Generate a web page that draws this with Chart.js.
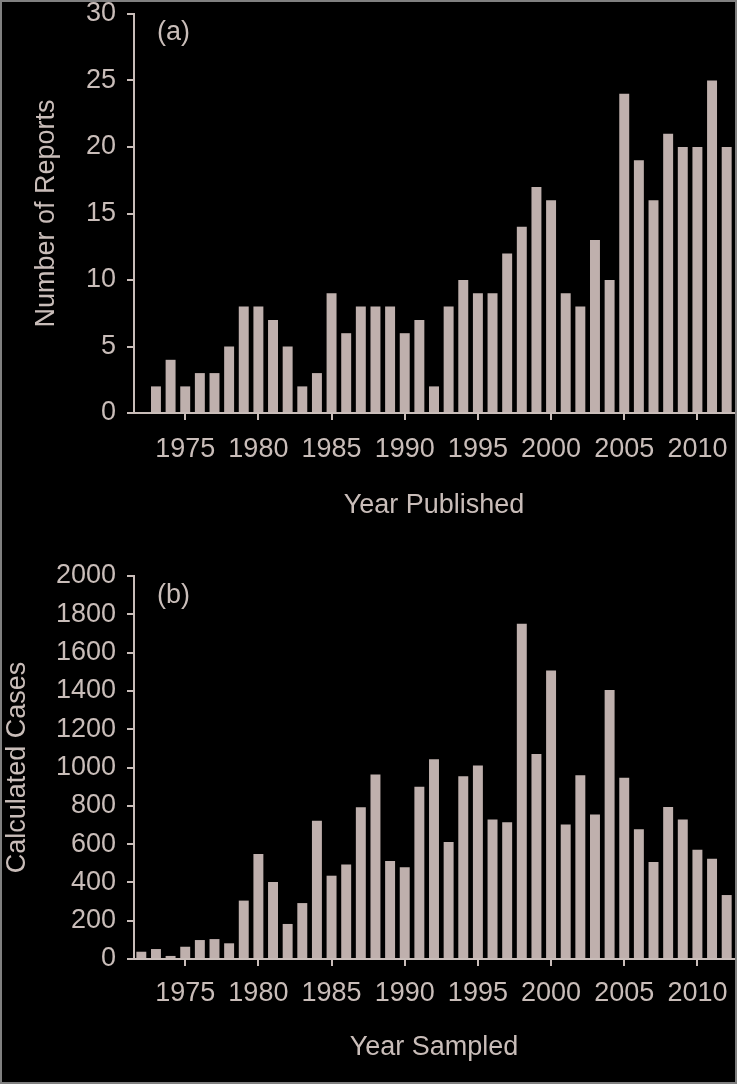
<!DOCTYPE html>
<html>
<head>
<meta charset="utf-8">
<script src="https://cdn.jsdelivr.net/npm/chart.js@4/dist/chart.umd.min.js"></script>
<style>
    body { margin: 0; background: #ffffff; width: 738px; height: 1086px; position: relative; overflow: hidden; }
    #frame { position: absolute; left: 0; top: 0; width: 733px; height: 1080px; background: #000; border: 2px solid #808080; }
    .panel { position: absolute; left: 0; width: 738px; }
    #wrapA { top: 0; height: 540px; }
    #wrapB { top: 540px; height: 546px; }
    .tag { position: absolute; color: #c9bdb9; font: 27px "Liberation Sans", Arial, sans-serif; }
</style>
</head>
<body>
<div id="frame"></div>
<div class="panel" id="wrapA"><canvas id="chartA"></canvas></div>
<div class="panel" id="wrapB"><canvas id="chartB"></canvas></div>
<div class="tag" style="left:157px; top:16px;">(a)</div>
<div class="tag" style="left:157px; top:579px;">(b)</div>
<script>
var years = [];
for (var y = 1972; y <= 2012; y++) years.push(y);

var reportsPublished = [0, 2, 4, 2, 3, 3, 5, 8, 8, 7, 5, 2, 3, 9, 6, 8, 8, 8, 6, 7, 2, 8, 10, 9, 9, 12, 14, 17, 16, 9, 8, 13, 10, 24, 19, 16, 21, 20, 20, 25, 20];

var casesSampled = [38, 52, 16, 64, 99, 104, 82, 305, 548, 402, 183, 292, 722, 435, 494, 792,
    963, 512, 479, 900, 1043, 611, 954, 1010, 729, 714, 1751, 1070, 1506, 703, 959, 754, 1405, 947, 677, 507, 794, 729, 571, 524, 334];

var barColor = "#bfb0ad";
var textColor = "#c9bdb9";
var fontFamily = "'Liberation Sans', Arial, sans-serif";

Chart.defaults.font.family = fontFamily;
Chart.defaults.color = textColor;

function makeChart(canvasId, values, yMax, yStep, yTitle, xTitle, padTop, yTitlePad, xTitlePad, xTickPad) {
    return new Chart(document.getElementById(canvasId), {
        type: "bar",
        data: {
            labels: years,
            datasets: [{
                data: values,
                backgroundColor: barColor,
                barPercentage: 0.68,
                categoryPercentage: 1.0
            }]
        },
        options: {
            responsive: true,
            maintainAspectRatio: false,
            animation: false,
            layout: { padding: { top: padTop, left: 0, right: 4, bottom: 0 } },
            plugins: { legend: { display: false }, tooltip: { enabled: false } },
            scales: {
                x: {
                    grid: { drawOnChartArea: false, offset: false, tickLength: 7, color: textColor, lineWidth: 2 },
                    border: { color: textColor, width: 2 },
                    ticks: {
                        autoSkip: false,
                        maxRotation: 0,
                        padding: xTickPad,
                        font: { size: 27 },
                        callback: function(val, i) {
                            var yr = years[i];
                            return yr % 5 === 0 ? String(yr) : null;
                        }
                    },
                    title: { display: true, text: xTitle, font: { size: 27 }, padding: { top: 0, bottom: xTitlePad } },
                    afterFit: function(scale) {
                        scale.height = 127;
                        scale.paddingLeft = 0;
                        scale.paddingRight = 0;
                    }
                },
                y: {
                    min: 0,
                    max: yMax,
                    ticks: {
                        stepSize: yStep,
                        padding: 11,
                        font: { size: 27 },
                        callback: function(val) { return String(val); }
                    },
                    grid: { drawOnChartArea: false, tickLength: 7, color: textColor, lineWidth: 2 },
                    border: { color: textColor, width: 2 },
                    title: { display: true, text: yTitle, font: { size: 27 }, padding: { top: yTitlePad, bottom: 0 } },
                    afterFit: function(scale) {
                        scale.width = 134;
                        scale.paddingTop = 0;
                        scale.paddingBottom = 0;
                    }
                }
            }
        }
    });
}

makeChart("chartA", reportsPublished, 30, 5, "Number of Reports", "Year Published", 14, 30, 18, 13);
makeChart("chartB", casesSampled, 2000, 200, "Calculated Cases", "Year Sampled", 36, 1, 22, 11);
</script>
</body>
</html>
